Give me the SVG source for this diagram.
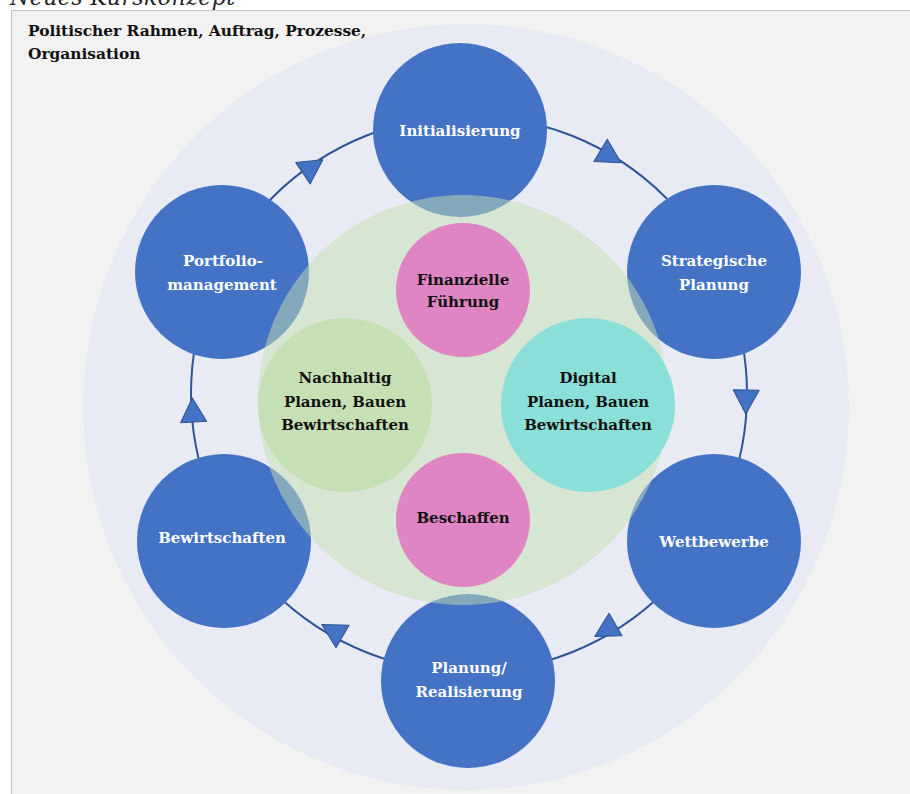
<svg xmlns="http://www.w3.org/2000/svg" width="910" height="794" viewBox="0 0 910 794">
<defs>
<style>
.t{font-family:"DejaVu Serif","Liberation Serif",serif;font-size:15px;font-weight:bold;text-anchor:middle}
.w{fill:#ffffff}
.k{fill:#111111}
.blue{fill:#4472c4}
.pink{fill:#e085c3}
.arr{fill:#4472c4;stroke:#2f528f;stroke-width:1;stroke-linejoin:round}
</style>
<polygon id="tri" points="13,0 -11,-13 -11,13"/>
</defs>
<rect x="0" y="0" width="910" height="794" fill="#ffffff"/>
<text x="10" y="5" font-family="DejaVu Serif, serif" font-style="italic" font-size="22" fill="#222" textLength="225">Neues Kurskonzept</text>
<rect x="11.5" y="10.5" width="910" height="800" fill="#f2f2f2" stroke="#c4c4c4" stroke-width="1"/>
<circle cx="466" cy="407" r="383" fill="#e8ebf3"/>
<text class="t k" x="28" y="36" style="text-anchor:start;font-size:15.4px">Politischer Rahmen, Auftrag, Prozesse,</text>
<text class="t k" x="28" y="59" style="text-anchor:start;font-size:15.4px">Organisation</text>
<g id="connectors">
<circle cx="469" cy="394" r="278" fill="none" stroke="#2f5597" stroke-width="2"/>
<use href="#tri" class="arr" transform="translate(312,167) rotate(-34)"/>
<use href="#tri" class="arr" transform="translate(610,156) rotate(31)"/>
<use href="#tri" class="arr" transform="translate(746,401) rotate(91)"/>
<use href="#tri" class="arr" transform="translate(606,630) rotate(150)"/>
<use href="#tri" class="arr" transform="translate(333,631) rotate(210)"/>
<use href="#tri" class="arr" transform="translate(193,411) rotate(267)"/>
</g>
<g id="initialisierung"><circle class="blue" cx="460" cy="130" r="87"/><text class="t w" x="460" y="136">Initialisierung</text></g>
<g id="strategische-planung"><circle class="blue" cx="714" cy="272" r="87"/><text class="t w" x="714" y="266">Strategische</text><text class="t w" x="714" y="290">Planung</text></g>
<g id="wettbewerbe"><circle class="blue" cx="714" cy="541" r="87"/><text class="t w" x="714" y="547">Wettbewerbe</text></g>
<g id="planung-realisierung"><circle class="blue" cx="468" cy="681" r="87"/><text class="t w" x="469" y="673">Planung/</text><text class="t w" x="469" y="697">Realisierung</text></g>
<g id="bewirtschaften"><circle class="blue" cx="224" cy="541" r="87"/><text class="t w" x="222" y="543">Bewirtschaften</text></g>
<g id="portfolio"><circle class="blue" cx="222" cy="272" r="87"/><text class="t w" x="223" y="266">Portfolio-</text><text class="t w" x="222" y="290">management</text></g>
<g id="kernbereich"><circle cx="463" cy="400" r="205" fill="#c5e0b4" fill-opacity="0.5"/></g>
<g id="finanzielle-fuehrung"><circle class="pink" cx="463" cy="290" r="67"/><text class="t k" x="463" y="285">Finanzielle</text><text class="t k" x="463" y="307">Führung</text></g>
<g id="beschaffen"><circle class="pink" cx="463" cy="520" r="67"/><text class="t k" x="463" y="523">Beschaffen</text></g>
<g id="nachhaltig"><circle cx="345" cy="405" r="87" fill="#c5e0b4"/><text class="t k" x="345" y="383">Nachhaltig</text><text class="t k" x="345" y="407">Planen, Bauen</text><text class="t k" x="345" y="430">Bewirtschaften</text></g>
<g id="digital"><circle cx="588" cy="405" r="87" fill="#8ae0d8"/><text class="t k" x="588" y="383">Digital</text><text class="t k" x="588" y="407">Planen, Bauen</text><text class="t k" x="588" y="430">Bewirtschaften</text></g>
</svg>
